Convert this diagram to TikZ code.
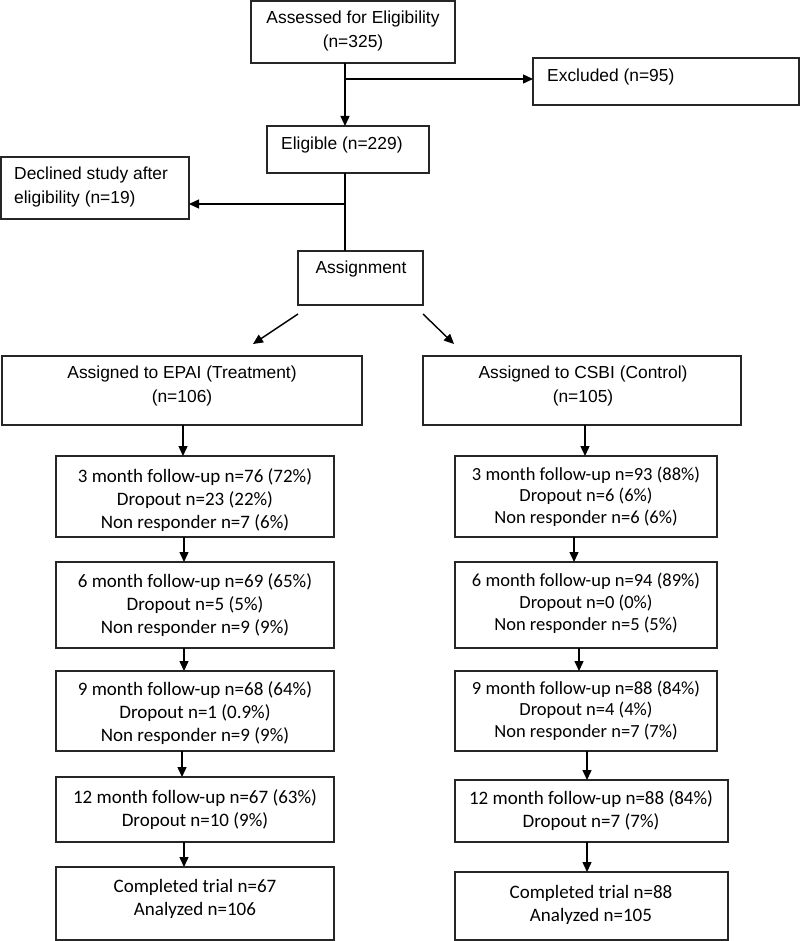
\documentclass[tikz,border=0pt]{standalone}
\usepackage{fontspec}
\usetikzlibrary{arrows.meta}
\newfontfamily\arialf{Liberation Sans}
\newfontfamily\calf{Carlito}
\begin{document}
\begin{tikzpicture}[x=1pt,y=-1pt,
  box/.style={draw=black!85,line width=1.5pt,inner sep=0pt,outer sep=0pt},
  atxt/.style={inner sep=0pt,font=\arialf\fontsize{17.4}{24}\selectfont},
  ctxt/.style={inner sep=0pt,align=center,font=\calf\fontsize{19}{23}\selectfont},
  ln/.style={line width=1.4pt,black},
  arr/.style={line width=1.4pt,black,-{Triangle[length=10pt,width=9pt]}}]
\useasboundingbox (0,0) rectangle (800,941);
% boxes
\node[box,minimum width=204pt,minimum height=62pt] (assess) at (353,32) {};
\node[box,minimum width=266pt,minimum height=47pt] (excl) at (666,81.5) {};
\node[box,minimum width=162pt,minimum height=47pt] (elig) at (348,149.5) {};
\node[box,minimum width=188pt,minimum height=62pt] (decl) at (95,188) {};
\node[box,minimum width=125pt,minimum height=54pt] (assign) at (360.5,278) {};
\node[box,minimum width=360pt,minimum height=69pt] (epai) at (182,390.5) {};
\node[box,minimum width=318pt,minimum height=69pt] (csbi) at (582,390.5) {};
\node[box,minimum width=278pt,minimum height=81pt] (L3) at (195,496.5) {};
\node[box,minimum width=262pt,minimum height=81pt] (R3) at (586,496.5) {};
\node[box,minimum width=278pt,minimum height=86pt] (L6) at (195,605) {};
\node[box,minimum width=262pt,minimum height=86pt] (R6) at (586,605) {};
\node[box,minimum width=278pt,minimum height=80pt] (L9) at (195,711) {};
\node[box,minimum width=262pt,minimum height=80pt] (R9) at (586,711) {};
\node[box,minimum width=278pt,minimum height=65pt] (L12) at (195,809.5) {};
\node[box,minimum width=273pt,minimum height=62pt] (R12) at (591.5,811) {};
\node[box,minimum width=278pt,minimum height=73pt] (LC) at (195,903.5) {};
\node[box,minimum width=273pt,minimum height=68pt] (RC) at (591.5,906) {};
% texts
\node[atxt,align=center] (tassess) at (353,31.5) {Assessed for Eligibility\\(n=325)};
\node[atxt,anchor=west] (texcl) at (547,77) {Excluded (n=95)};
\node[atxt,anchor=west] (telig) at (281,145) {Eligible (n=229)};
\node[atxt,anchor=west,align=left] (tdecl) at (14,187.5) {Declined study after\\eligibility (n=19)};
\node[atxt] (tassign) at (361,269) {Assignment};
\node[atxt,align=center] (tepai) at (182,386) {Assigned to EPAI (Treatment)\\(n=106)};
\node[atxt,align=center] (tcsbi) at (583,386) {Assigned to CSBI (Control)\\(n=105)};
\node[ctxt] (tL3) at (195,500) {3 month follow-up n=76 (72\%)\\Dropout n=23 (22\%)\\Non responder n=7 (6\%)};
\node[ctxt,font=\calf\fontsize{18.5}{21.5}\selectfont] (tR3) at (586,496.5) {3 month follow-up n=93 (88\%)\\Dropout n=6 (6\%)\\Non responder n=6 (6\%)};
\node[ctxt] (tL6) at (195,605) {6 month follow-up n=69 (65\%)\\Dropout n=5 (5\%)\\Non responder n=9 (9\%)};
\node[ctxt,font=\calf\fontsize{18.5}{22}\selectfont] (tR6) at (586,603) {6 month follow-up n=94 (89\%)\\Dropout n=0 (0\%)\\Non responder n=5 (5\%)};
\node[ctxt] (tL9) at (195,713) {9 month follow-up n=68 (64\%)\\Dropout n=1 (0.9\%)\\Non responder n=9 (9\%)};
\node[ctxt,font=\calf\fontsize{18.5}{21.5}\selectfont] (tR9) at (586,710.5) {9 month follow-up n=88 (84\%)\\Dropout n=4 (4\%)\\Non responder n=7 (7\%)};
\node[ctxt] (tL12) at (195,809.5) {12 month follow-up n=67 (63\%)\\Dropout n=10 (9\%)};
\node[ctxt] (tR12) at (591,810.5) {12 month follow-up n=88 (84\%)\\Dropout n=7 (7\%)};
\node[ctxt] (tLC) at (195,899) {Completed trial n=67\\Analyzed n=106};
\node[ctxt] (tRC) at (591,904.5) {Completed trial n=88\\Analyzed n=105};
% connector guides
\coordinate (cx) at (345,0);
\coordinate (bexcl) at (345,79);
\coordinate (bdecl) at (345,204);
\coordinate (d1s) at (298,314);
\coordinate (d1e) at (253,344);
\coordinate (d2s) at (423,314);
\coordinate (d2e) at (454,344);
\coordinate (xa) at (183,0);
\coordinate (xb) at (184,0);
\coordinate (xc) at (182,0);
\coordinate (xr1) at (585,0);
\coordinate (xr2) at (574,0);
\coordinate (xr3) at (579,0);
\coordinate (xr4) at (587,0);
% connectors
\draw[arr] (assess.south -| cx) -- (elig.north -| cx);
\draw[arr] (bexcl) -- (bexcl -| excl.west);
\draw[ln] (elig.south -| cx) -- (assign.north -| cx);
\draw[arr] (bdecl) -- (bdecl -| decl.east);
\draw[arr] (d1s) -- (d1e);
\draw[arr] (d2s) -- (d2e);
\draw[arr] (epai.south -| xa) -- (L3.north -| xa);
\draw[arr] (L3.south -| xb) -- (L6.north -| xb);
\draw[arr] (L6.south -| xb) -- (L9.north -| xb);
\draw[arr] (L9.south -| xc) -- (L12.north -| xc);
\draw[arr] (L12.south -| xb) -- (LC.north -| xb);
\draw[arr] (csbi.south -| xr1) -- (R3.north -| xr1);
\draw[arr] (R3.south -| xr2) -- (R6.north -| xr2);
\draw[arr] (R6.south -| xr3) -- (R9.north -| xr3);
\draw[arr] (R9.south -| xr4) -- (R12.north -| xr4);
\draw[arr] (R12.south -| xr4) -- (RC.north -| xr4);
\end{tikzpicture}
\end{document}
